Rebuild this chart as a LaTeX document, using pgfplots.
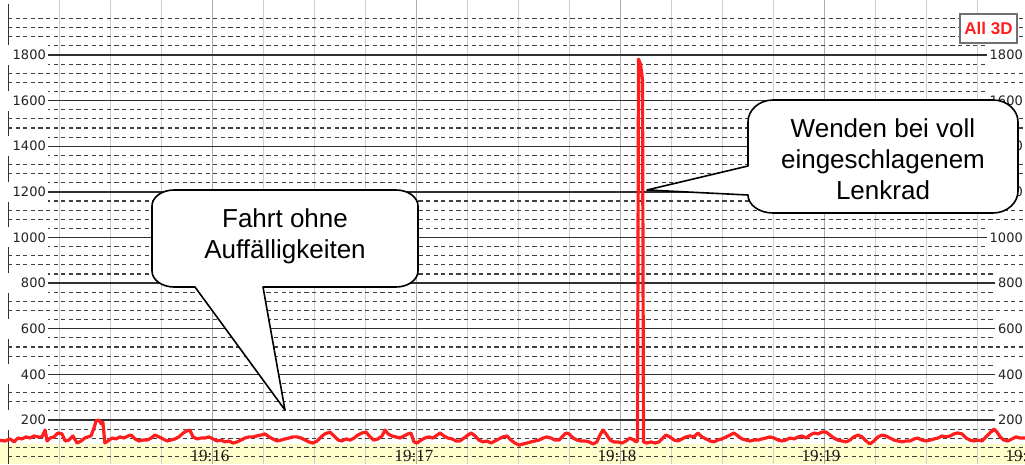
\documentclass[border=0pt]{standalone}
\usepackage{pgfplots}
\pgfplotsset{compat=1.18}
\usepackage{fontspec}
\setmainfont{Liberation Sans}
\newfontfamily\labfont{DejaVu Sans}
\newfontfamily\timefont{Liberation Serif}
\definecolor{majgrid}{HTML}{303030}
\definecolor{mingrid}{HTML}{404040}
\definecolor{vgrid}{HTML}{CDCDCD}
\definecolor{vgridmin}{HTML}{ABABAB}
\definecolor{band}{RGB}{255,255,204}
\definecolor{sig}{RGB}{255,30,30}
\definecolor{labcol}{HTML}{222222}
\definecolor{boxgray}{HTML}{707070}

\pgfplotstableread{
t v
-3.0 112
-0.9 108
0.6 117
1.8 104
2.9 121
4.1 117
5.3 126
6.5 121
7.6 130
8.8 126
10.0 126
10.9 156
11.5 108
12.4 121
13.5 126
14.7 143
15.9 139
16.8 108
17.9 112
19.1 130
20.3 99
21.5 108
22.6 121
23.5 126
24.4 130
25.3 165
25.9 196
26.8 200
27.4 183
27.9 191
28.5 99
29.4 108
30.6 121
31.8 117
32.9 126
34.1 121
35.3 130
36.2 134
37.4 117
38.5 108
39.7 112
40.9 112
42.1 121
43.2 134
44.4 126
45.6 117
46.8 108
47.9 112
49.1 117
50.3 126
51.5 143
52.6 152
53.5 156
54.4 126
55.6 117
56.8 121
57.9 121
59.1 126
60.3 117
61.5 108
62.6 112
63.8 104
65.0 108
66.2 99
67.4 104
68.5 112
69.7 121
70.9 126
72.1 126
73.2 130
74.4 134
75.6 139
76.8 126
77.9 117
79.1 108
80.3 112
81.5 117
82.6 121
83.8 126
85.0 126
86.2 121
87.4 112
88.5 104
89.7 99
90.9 108
92.1 126
93.2 139
94.7 147
95.9 130
97.1 112
98.2 108
99.4 117
100.6 112
101.8 121
102.9 134
104.1 143
105.3 147
106.5 126
107.6 112
108.8 117
110.0 130
110.9 156
111.8 139
112.9 130
114.1 126
115.3 121
116.5 130
117.6 139
118.5 143
119.4 104
120.3 99
121.5 112
122.6 121
123.8 126
125.0 121
126.2 134
127.1 143
128.2 130
129.4 121
130.6 117
131.8 108
132.9 108
134.1 121
135.3 134
136.2 143
137.4 130
138.5 112
139.7 104
140.9 108
142.1 99
143.2 108
144.4 117
145.6 126
146.8 130
147.9 112
149.1 99
150.3 90
151.5 95
152.6 99
153.8 104
155.0 108
156.2 112
157.4 121
158.5 126
159.7 121
160.9 112
162.1 112
163.2 130
164.1 143
165.0 139
166.2 121
167.4 112
168.5 108
169.7 108
170.9 104
172.1 95
173.2 104
174.1 134
175.0 156
175.9 139
177.1 112
178.2 104
179.4 104
180.6 99
181.8 108
182.9 121
184.1 112
184.7 104
185.15 108
185.44 1782
186.03 1760
186.62 1690
186.91 104
187.9 99
189.1 104
190.3 99
191.5 104
192.6 121
193.5 134
194.7 126
195.9 112
197.1 108
198.2 117
199.4 126
200.6 130
201.8 126
202.9 143
204.1 126
205.3 117
206.5 108
207.6 104
208.8 112
210.0 117
211.2 126
212.4 134
213.5 143
214.7 130
215.9 117
217.1 112
218.2 108
219.4 112
220.6 112
221.8 117
222.9 121
224.1 126
225.3 121
226.5 112
227.6 108
228.8 112
230.0 121
231.2 117
232.4 126
233.5 130
234.7 121
235.9 134
237.1 143
238.2 139
239.4 147
240.6 147
241.8 134
242.9 121
244.1 112
245.3 108
246.5 104
247.6 112
248.8 126
250.0 134
251.2 126
252.4 108
253.5 95
254.7 108
255.9 126
257.1 134
258.2 130
259.4 121
260.6 112
261.8 108
262.9 104
264.1 108
265.3 108
266.5 117
267.6 121
268.8 112
270.0 108
271.2 112
272.4 117
273.5 121
274.7 130
275.9 126
277.1 130
278.2 139
279.4 143
280.6 139
281.8 121
282.9 112
284.1 108
285.3 112
286.5 108
287.6 126
288.8 143
290.0 160
290.9 147
291.8 126
292.9 112
294.1 108
295.3 117
296.5 126
297.6 121
300.0 121
}\signal

\begin{document}
\begin{tikzpicture}
\useasboundingbox (0,0) rectangle (1025pt,464pt);
% background, grid and value labels (pixel coordinates, y downwards)
\begin{scope}[shift={(0,464pt)}, x=1pt, y=-1pt]
  \fill[white] (0,0) rectangle (1025,464);
  \fill[band] (0,444) rectangle (1025,464);
  \foreach \k in {1,...,19} {
    \draw[vgrid, line width=1pt] ({8+51*\k},0) -- ({8+51*\k},464);
  }
  \foreach \k in {4,8,12,16} {
    \draw[vgridmin, line width=1pt] ({8+51*\k},0) -- ({8+51*\k},464);
  }
  \draw[majgrid, line width=1pt] (8,4) -- (8,464);
  \foreach \k in {1,...,49} {
    \pgfmathtruncatemacro\r{mod(\k,5)}
    \ifnum\r=0\relax\else
      \draw[mingrid, line width=1.15pt, dash pattern=on 4.2pt off 3.4pt]
        (8,{465.625-9.125*\k}) -- (1025,{465.625-9.125*\k});
    \fi
  }
  \foreach \k in {1,...,9} {
    \draw[majgrid, line width=1.4pt] (8,{465.625-45.625*\k}) -- (1025,{465.625-45.625*\k});
  }
  \foreach \k in {1,...,9} {
    \pgfmathtruncatemacro\val{200*\k}
    \pgfmathsetmacro\yy{465.625-45.625*\k}
    \fill[white] (2,\yy-10) rectangle (48,\yy+10);
    \node[anchor=east, inner xsep=0pt, inner ysep=0pt, text=labcol,
      font=\labfont\fontsize{13}{14}\selectfont] at (46,\yy) {\val};
    \node[anchor=east, fill=white, inner xsep=3pt, inner ysep=5.5pt, text=labcol,
      font=\labfont\fontsize{13}{14}\selectfont] at (1026,\yy) {\val};
  }
\end{scope}

\begin{axis}[at={(0,0)}, anchor=south west, scale only axis,
  width=1025pt, height=464pt,
  xmin=-2.353, xmax=299.12, ymin=7.12, ymax=2041.1,
  hide axis]
  \addplot[sig, line width=3.2pt, line join=round, no markers] table[x=t, y=v] {\signal};
\end{axis}

% annotations (pixel coordinates, y downwards)
\begin{scope}[shift={(0,464pt)}, x=1pt, y=-1pt]
  \foreach \xx/\lab in {210/19:16, 414/19:17, 617/19:18, 821/19:19, 1025/19:20} {
    \node[anchor=base, inner sep=0pt, text=black!90,
      font=\timefont\fontsize{17}{18}\selectfont] at (\xx,461) {\lab};
  }
  % All 3D box
  \draw[boxgray, line width=1.6pt, fill=white] (960,14) rectangle (1017,43);
  \node[text=sig, font=\bfseries\fontsize{17}{18}\selectfont, inner sep=0pt] at (988.5,28.8) {All 3D};
  % callout 1
  \draw[black, line width=1.6pt, fill=white, line join=round]
    (174,190) -- (396,190) .. controls (408.1,190) and (418,197.2) .. (418,206)
    -- (418,271) .. controls (418,279.8) and (408.1,287) .. (396,287)
    -- (263,287) -- (285,410) -- (195,287) -- (174,287)
    .. controls (161.9,287) and (152,279.8) .. (152,271)
    -- (152,206) .. controls (152,197.2) and (161.9,190) .. (174,190) -- cycle;
  \node[anchor=base, inner sep=0pt, font=\fontsize{26}{30}\selectfont] at (285,228) {Fahrt ohne};
  \node[anchor=base, inner sep=0pt, font=\fontsize{26}{30}\selectfont] at (285,258) {Auffälligkeiten};
  % callout 2
  \draw[black, line width=1.6pt, fill=white, line join=round]
    (773,100) -- (993,100) .. controls (1006.8,100) and (1018,109.9) .. (1018,122)
    -- (1018,191) .. controls (1018,203.1) and (1006.8,213) .. (993,213)
    -- (773,213) .. controls (759.2,213) and (748,204.9) .. (748,195)
    -- (647,190) -- (748,166)
    -- (748,122) .. controls (748,109.9) and (759.2,100) .. (773,100) -- cycle;
  \node[anchor=base, inner sep=0pt, font=\fontsize{26}{30}\selectfont] at (883,138) {Wenden bei voll};
  \node[anchor=base, inner sep=0pt, font=\fontsize{26}{30}\selectfont] at (883,169) {eingeschlagenem};
  \node[anchor=base, inner sep=0pt, font=\fontsize{26}{30}\selectfont] at (883,200) {Lenkrad};
\end{scope}
\end{tikzpicture}
\end{document}
